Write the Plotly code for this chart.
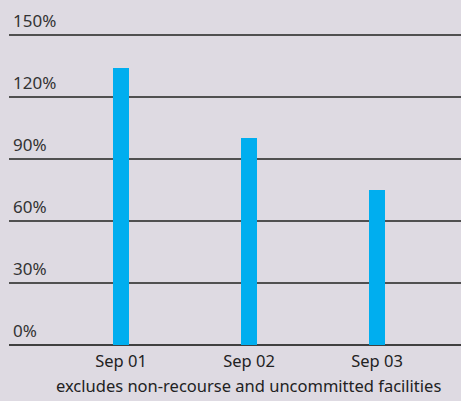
import plotly.graph_objects as go

# Facility headroom by year-end
periods = ["Sep 01", "Sep 02", "Sep 03"]
values = [134, 100, 75]
y_ticks = [0, 30, 60, 90, 120, 150]
y_tick_labels = ["0%", "30%", "60%", "90%", "120%", "150%"]
note = "excludes non-recourse and uncommitted facilities"

bg = "#dedae2"
font_family = "Noto Sans, Open Sans, sans-serif"

fig = go.Figure(
    go.Bar(
        x=periods,
        y=values,
        marker=dict(color="#00aeef", line=dict(width=0)),
        width=0.125,
        hoverinfo="skip",
    )
)

# Percentage labels sit just above each gridline at the left edge
annotations = [
    dict(
        x=0.0, xref="paper", xanchor="left",
        y=v, yref="y", yanchor="bottom",
        text=t, showarrow=False, xshift=2, yshift=1,
        font=dict(family=font_family, size=17, color="#333333"),
    )
    for v, t in zip(y_ticks, y_tick_labels)
]
annotations.append(
    dict(
        x=0.53, xref="paper", xanchor="center",
        y=0, yref="paper", yanchor="top",
        text=note, showarrow=False, yshift=-27,
        font=dict(family=font_family, size=16.5, color="#222222"),
    )
)

fig.update_layout(
    width=461,
    height=401,
    margin=dict(l=9, r=0, t=30, b=56),
    paper_bgcolor=bg,
    plot_bgcolor=bg,
    showlegend=False,
    bargap=0,
    annotations=annotations,
    xaxis=dict(
        range=[-0.875, 2.656],
        showgrid=False,
        zeroline=False,
        showline=False,
        ticks="",
        ticklabelstandoff=4,
        tickfont=dict(family=font_family, size=16.5, color="#222222"),
    ),
    yaxis=dict(
        range=[0, 152.4],
        tickvals=y_ticks,
        showticklabels=False,
        showgrid=True,
        gridcolor="#505050",
        gridwidth=2,
        zeroline=True,
        zerolinecolor="#404040",
        zerolinewidth=2,
        showline=False,
        fixedrange=True,
    ),
)

fig.write_html("out.html")
